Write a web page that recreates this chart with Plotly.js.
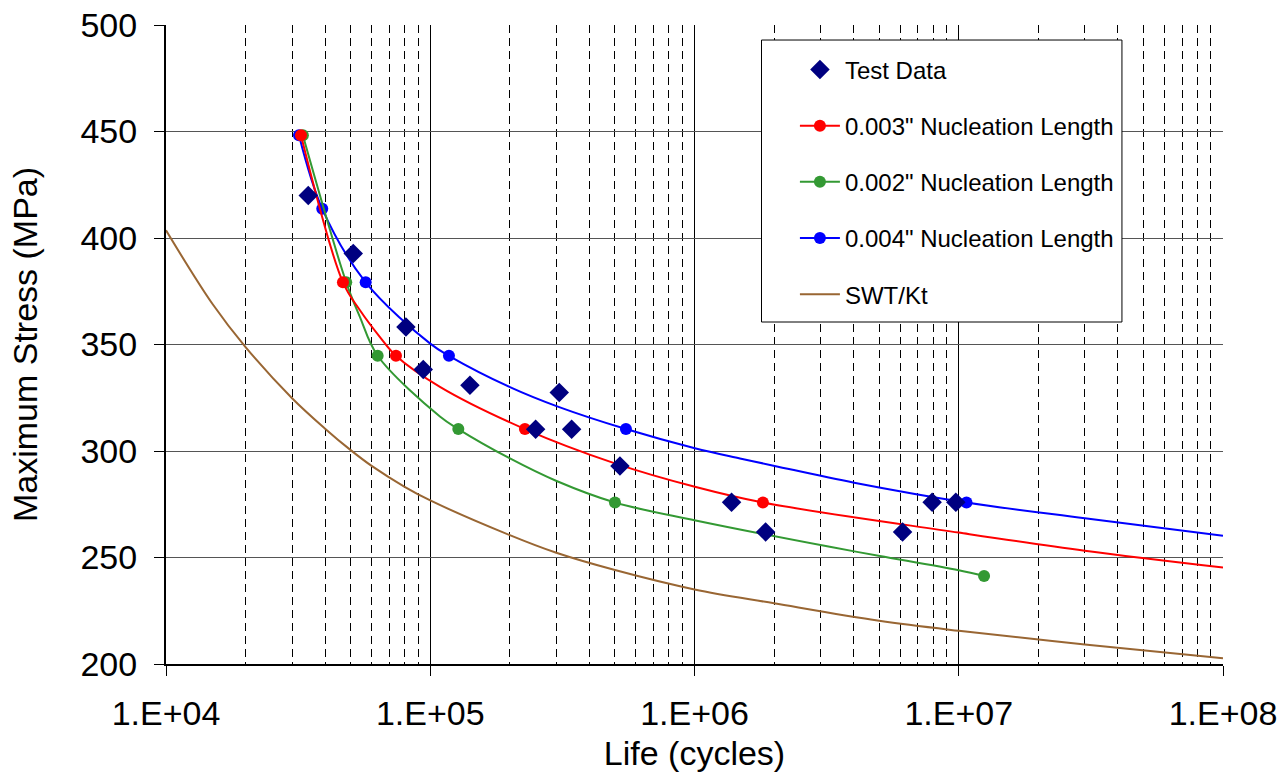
<!DOCTYPE html>
<html><head><meta charset="utf-8">
<script src="https://cdn.plot.ly/plotly-3.0.1.min.js"></script>
<style>html,body{margin:0;padding:0;background:#fff}#chart{width:1283px;height:781px}</style>
</head><body><div id="chart"></div>
<script>
// ---- tick labels ----
const xTickVals = [1e4, 1e5, 1e6, 1e7, 1e8];
const xTickText = ['1.E+04', '1.E+05', '1.E+06', '1.E+07', '1.E+08'];
const yTickVals = [200, 250, 300, 350, 400, 450, 500];

// ---- series names ----
const seriesNames = ['Test Data', '0.003" Nucleation Length', '0.002" Nucleation Length', '0.004" Nucleation Length', 'SWT/Kt'];

// ---- Test data ----
const testLife   = [34550, 51130, 80910, 94090, 141300, 307700, 250500, 342800, 522200, 1381000, 1858000, 6128000, 7930000, 9750000];
const testStress = [420.0, 392.7, 358.2, 338.3, 330.9, 327.5, 310.2, 310.2, 293.0, 275.9, 262.0, 262.0, 275.9, 275.9];

// ---- 0.003" model: marked points and curve points ----
const redMarkLife    = [32420, 46730, 74180, 228200, 1815000];
const redMarkStress  = [448.2, 379.2, 344.7, 310.3, 275.8];
const redCurveLife   = [54200, 64520, 108800, 500000, 1003000, 10000000, 30000000, 100000000];
const redCurveStress = [366.1, 353.5, 330.1, 294.2, 283.2, 261.7, 253.2, 245.3];

// ---- 0.002" model ----
const greenMarkLife    = [32960, 48080, 63240, 127700, 500000, 12470000];
const greenMarkStress  = [448.2, 379.2, 344.7, 310.3, 275.8, 241.3];
const greenCurveLife   = [54200, 108800, 200300, 300600, 1010000, 3250000, 5030000, 10000000];
const greenCurveStress = [362.9, 316.2, 296.5, 285.9, 267.4, 255.0, 250.7, 244.0];

// ---- 0.004" model ----
const blueMarkLife    = [31860, 39020, 56970, 117700, 550200, 10700000];
const blueMarkStress  = [448.2, 413.7, 379.2, 344.7, 310.3, 275.8];
const blueCurveLife   = [100000, 200300, 307700, 1003000, 1486000, 2010000, 4020000, 30000000, 100000000];
const blueCurveStress = [350.4, 330.0, 320.6, 301.3, 296.5, 293.0, 285.1, 268.4, 260.2];

// ---- SWT/Kt ----
const swtLife   = [10000, 15000, 20000, 30000, 40000, 50000, 60000, 80000, 100000, 200000, 300000, 500000, 1000000, 2000000, 5000000, 10000000, 30000000, 100000000];
const swtStress = [403.6, 369.0, 348.8, 324.8, 310.5, 300.4, 293.0, 283.2, 276.8, 260.5, 252.2, 244.1, 235.0, 228.5, 220.3, 215.6, 209.2, 202.7];

function buildModel(markN, markS, curveN, curveS, color) {
  const pts = markN.map((n, i) => ({n: n, s: markS[i], m: true}))
    .concat(curveN.map((n, i) => ({n: n, s: curveS[i], m: false})));
  pts.sort((a, b) => a.n - b.n);
  return {
    x: pts.map(p => p.n),
    y: pts.map(p => p.s),
    colors: pts.map(p => p.m ? color : 'rgba(0,0,0,0)')
  };
}

function modelTrace(name, rank, model, color) {
  return {
    type: 'scatter', mode: 'lines+markers', name: name,
    x: model.x, y: model.y,
    line: {color: color, width: 2, shape: 'spline', smoothing: 1},
    marker: {symbol: 'circle', size: 12, color: model.colors},
    legendgroup: 'g' + rank, legendrank: rank, hoverinfo: 'skip'
  };
}

const RED = '#FF0000', GREEN = '#339933', BLUE = '#0000FF', BROWN = '#996633', NAVY = '#000080';
const redModel = buildModel(redMarkLife, redMarkStress, redCurveLife, redCurveStress, RED);
const greenModel = buildModel(greenMarkLife, greenMarkStress, greenCurveLife, greenCurveStress, GREEN);
const blueModel = buildModel(blueMarkLife, blueMarkStress, blueCurveLife, blueCurveStress, BLUE);

const traces = [
  {
    type: 'scatter', mode: 'lines', name: seriesNames[4],
    x: swtLife, y: swtStress,
    line: {color: BROWN, width: 2, shape: 'spline', smoothing: 1},
    legendgroup: 'g5', legendrank: 5, hoverinfo: 'skip'
  },
  modelTrace(seriesNames[3], 4, blueModel, BLUE),
  modelTrace(seriesNames[2], 3, greenModel, GREEN),
  modelTrace(seriesNames[1], 2, redModel, RED),
  {
    type: 'scatter', mode: 'markers', name: seriesNames[0],
    x: testLife, y: testStress,
    marker: {symbol: 'diamond', size: 15, color: NAVY},
    legendgroup: 'g1', legendrank: 1, hoverinfo: 'skip'
  }
];

const FONT = 'Liberation Sans, Arial, sans-serif';
const layout = {
  width: 1283, height: 781,
  margin: {l: 166, r: 60, t: 25, b: 117},
  paper_bgcolor: '#fff', plot_bgcolor: '#fff',
  font: {family: FONT, color: '#000'},
  showlegend: true,
  xaxis: {
    type: 'log', range: [4, 8],
    tickvals: xTickVals, ticktext: xTickText,
    ticks: 'outside', ticklen: 10, tickwidth: 1, tickcolor: '#000',
    tickfont: {size: 34, family: FONT, color: '#000'},
    ticklabelstandoff: 8,
    showline: true, linecolor: '#000', linewidth: 2,
    showgrid: true, gridcolor: '#000', gridwidth: 1,
    minor: {dtick: 'D1', showgrid: true, gridcolor: '#000', gridwidth: 1, griddash: '8px,5px', ticks: ''},
    zeroline: false,
    title: {text: 'Life (cycles)', font: {size: 34, family: FONT, color: '#000'}, standoff: 10}
  },
  yaxis: {
    range: [200, 500], tickvals: yTickVals,
    ticks: 'outside', ticklen: 10, tickwidth: 1, tickcolor: '#000',
    tickfont: {size: 34, family: FONT, color: '#000'},
    ticklabelstandoff: 10,
    showline: true, linecolor: '#000', linewidth: 2,
    showgrid: true, gridcolor: '#555', gridwidth: 1,
    zeroline: false,
    title: {text: 'Maximum Stress (MPa)', font: {size: 34, family: FONT, color: '#000'}, standoff: 33}
  },
  legend: {
    x: 0.595, y: 0.965, xanchor: 'left', yanchor: 'top',
    bgcolor: 'rgba(0,0,0,0)', borderwidth: 0,
    font: {size: 24, family: FONT, color: '#000'},
    tracegroupgap: 22, itemwidth: 40, traceorder: 'grouped'
  },
  shapes: [{
    type: 'rect', xref: 'paper', yref: 'paper',
    x0: 0.5634, x1: 0.9044, y0: 0.5352, y1: 0.9765,
    fillcolor: '#fff', line: {color: '#000', width: 1}, layer: 'above'
  }]
};

Plotly.newPlot('chart', traces, layout, {staticPlot: true, displayModeBar: false});
</script>
</body></html>
